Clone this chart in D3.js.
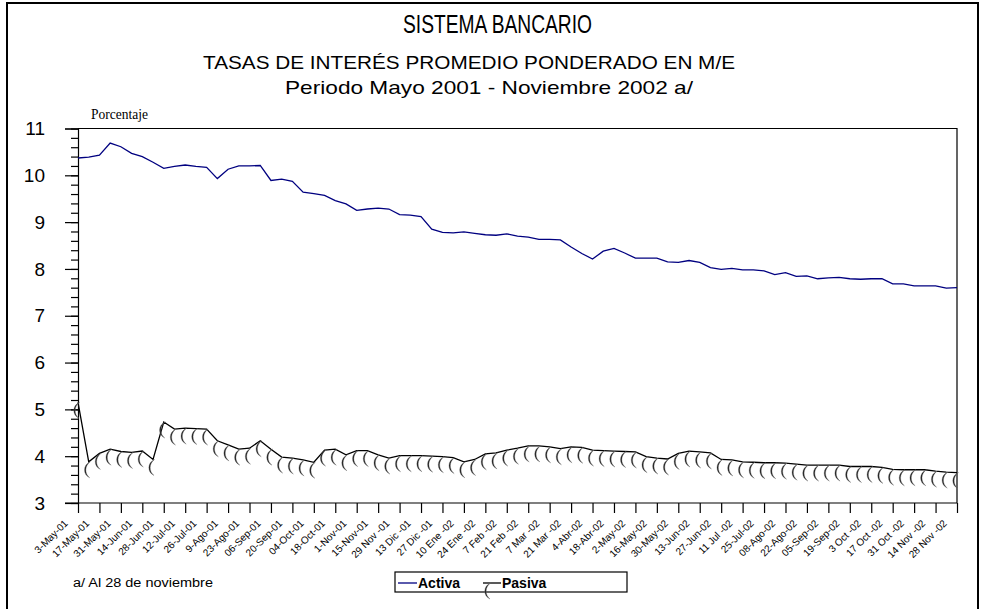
<!DOCTYPE html>
<html>
<head>
    <style>
        html,
        body {
            width: 100%;
            height: 100%;
            margin: 0;
            padding: 0;
            overflow: hidden;
            background: #fff;
        }
    </style>
</head>
<body>
<script src="https://d3js.org/d3.v7.min.js"></script>
<script>
    // tick labels, one every two weeks
    const dateLabels = ["3-May-01", "17-May-01", "31-May-01", "14-Jun-01", "28-Jun-01", "12-Jul-01", "26-Jul-01",
        "9-Ago-01", "23-Ago-01", "06-Sep-01", "20-Sep-01", "04-Oct-01", "18-Oct-01", "1-Nov-01", "15-Nov-01",
        "29 Nov -01", "13 Dic -01", "27 Dic -01", "10 Ene -02", "24 Ene -02", "7 Feb -02", "21 Feb -02",
        "7 Mar -02", "21 Mar -02", "4-Abr-02", "18-Abr-02", "2-May-02", "16-May-02", "30-May-02", "13-Jun-02",
        "27-Jun-02", "11 Jul -02", "25-Jul-02", "08-Ago-02", "22-Ago-02", "05-Sep-02", "19-Sep-02", "3 Oct -02",
        "17 Oct -02", "31 Oct -02", "14 Nov -02", "28 Nov -02"];

    // weekly rates (%)
    const activa = [10.37, 10.39, 10.43, 10.69, 10.61, 10.47, 10.40, 10.28, 10.15, 10.19, 10.22, 10.19, 10.17,
        9.93, 10.13, 10.20, 10.20, 10.21, 9.89, 9.92, 9.87, 9.64, 9.61, 9.57, 9.46, 9.39, 9.25, 9.28, 9.30,
        9.28, 9.16, 9.15, 9.12, 8.85, 8.78, 8.77, 8.79, 8.76, 8.73, 8.72, 8.75, 8.70, 8.68, 8.63, 8.63, 8.62,
        8.47, 8.33, 8.21, 8.38, 8.44, 8.34, 8.23, 8.23, 8.23, 8.15, 8.14, 8.18, 8.14, 8.03, 7.99, 8.01, 7.98,
        7.98, 7.96, 7.88, 7.92, 7.84, 7.85, 7.79, 7.81, 7.82, 7.79, 7.78, 7.79, 7.79, 7.68, 7.68, 7.64, 7.64,
        7.64, 7.59, 7.60];

    const pasiva = [5.15, 3.88, 4.06, 4.15, 4.10, 4.08, 4.11, 3.93, 4.73, 4.58, 4.60, 4.59, 4.58, 4.33, 4.24,
        4.15, 4.17, 4.33, 4.15, 3.98, 3.96, 3.92, 3.87, 4.13, 4.15, 4.03, 4.12, 4.12, 4.03, 3.96, 4.01, 4.01,
        4.01, 4.00, 3.99, 3.97, 3.88, 3.93, 4.05, 4.07, 4.13, 4.17, 4.22, 4.22, 4.20, 4.16, 4.20, 4.19, 4.13,
        4.12, 4.11, 4.10, 4.09, 3.99, 3.96, 3.94, 4.06, 4.11, 4.09, 4.07, 3.93, 3.92, 3.88, 3.87, 3.86, 3.86,
        3.85, 3.83, 3.81, 3.81, 3.81, 3.81, 3.78, 3.78, 3.78, 3.76, 3.72, 3.71, 3.71, 3.71, 3.68, 3.66, 3.65];

    const yTicks = [3, 4, 5, 6, 7, 8, 9, 10, 11];

    const width = 982;
    const height = 609;
    const plot = {left: 78, right: 957, top: 128.5, bottom: 503};

    const svg = d3.select("body")
        .append("svg")
        .attr("width", width)
        .attr("height", height)
        .style("font-family", "Arial, 'Liberation Sans', sans-serif");

    // outer frame
    svg.append("rect")
        .attr("x", 7).attr("y", 3)
        .attr("width", 971).attr("height", 700)
        .attr("fill", "none")
        .attr("stroke", "#000")
        .attr("stroke-width", 2);

    // titles
    svg.append("text").attr("x", 403).attr("y", 33)
        .attr("font-size", 26).attr("textLength", 189).attr("lengthAdjust", "spacingAndGlyphs")
        .text("SISTEMA BANCARIO");
    svg.append("text").attr("x", 203).attr("y", 69)
        .attr("font-size", 19).attr("textLength", 532).attr("lengthAdjust", "spacingAndGlyphs")
        .text("TASAS DE INTERÉS PROMEDIO PONDERADO EN M/E");
    svg.append("text").attr("x", 285).attr("y", 94)
        .attr("font-size", 18.5).attr("textLength", 408).attr("lengthAdjust", "spacingAndGlyphs")
        .text("Periodo Mayo 2001 - Noviembre  2002 a/");

    svg.append("text").attr("x", 91).attr("y", 119)
        .attr("font-family", "'Liberation Serif', 'Times New Roman', serif")
        .attr("font-size", 14).attr("textLength", 57).attr("lengthAdjust", "spacingAndGlyphs")
        .text("Porcentaje");

    const x = d3.scaleLinear().domain([0, activa.length - 1]).range([plot.left, plot.right]);
    const y = d3.scaleLinear().domain([3, 11]).range([plot.bottom, plot.top]);

    // plot box (top and right)
    svg.append("path")
        .attr("d", `M${plot.left},${plot.top}H${plot.right}V${plot.bottom}`)
        .attr("fill", "none").attr("stroke", "#000").attr("stroke-width", 1.2);

    // minor y ticks every 0.2
    svg.append("g")
        .attr("transform", `translate(${plot.left},0)`)
        .call(d3.axisLeft(y).tickValues(d3.range(15, 56).map(d => d / 5)).tickSize(7).tickFormat(""))
        .call(g => g.select(".domain").remove())
        .selectAll("line").attr("stroke-width", 1.2);

    // major y ticks
    svg.append("g")
        .attr("transform", `translate(${plot.left},0)`)
        .call(d3.axisLeft(y).tickValues(yTicks).tickSize(13).tickPadding(20).tickFormat(d3.format("d")))
        .call(g => g.select(".domain").attr("stroke-width", 1.2))
        .call(g => g.selectAll("line").attr("stroke-width", 1.2))
        .call(g => g.selectAll("text").attr("font-size", 19).attr("fill", "#000")
            .attr("font-family", "Arial, 'Liberation Sans', sans-serif"));

    // x axis
    const tickIdx = dateLabels.map((d, i) => i * 2);
    svg.append("g")
        .attr("transform", `translate(0,${plot.bottom})`)
        .call(d3.axisBottom(x).tickValues(tickIdx).tickSize(10).tickFormat(d => dateLabels[d / 2]))
        .call(g => g.select(".domain").attr("d", `M${plot.left - 13},0H${plot.right}`).attr("stroke-width", 1.2))
        .call(g => g.selectAll("line").attr("stroke-width", 1.2))
        .call(g => g.selectAll("text")
            .attr("x", 0).attr("y", 0).attr("dy", 0)
            .attr("transform", "translate(-10,21) rotate(-45)")
            .attr("text-anchor", "end")
            .attr("font-size", 10)
            .attr("fill", "#000")
            .attr("font-family", "Arial, 'Liberation Sans', sans-serif"));

    // lines
    const line = d3.line().x((d, i) => x(i)).y(d => y(d));

    svg.append("path")
        .datum(activa)
        .attr("d", line)
        .attr("fill", "none")
        .attr("stroke", "#000080")
        .attr("stroke-width", 1.3);

    svg.append("path")
        .datum(pasiva)
        .attr("d", line)
        .attr("fill", "none")
        .attr("stroke", "#000")
        .attr("stroke-width", 1.3);

    // "(" shaped marker hanging under the point
    function marker(px, py) {
        return `M${px + 1.5},${py} C${px - 6},${py + 3} ${px - 6},${py + 13} ${px + 1},${py + 16}` +
            ` C${px - 4.2},${py + 12} ${px - 4.2},${py + 4} ${px + 1.5},${py} Z`;
    }

    svg.append("g")
        .selectAll("path")
        .data(pasiva)
        .join("path")
        .attr("d", (d, i) => marker(x(i), y(d)))
        .attr("fill", "#111")
        .attr("stroke", "#777")
        .attr("stroke-width", 0.4);

    // footnote
    svg.append("text").attr("x", 73).attr("y", 587)
        .attr("font-size", 12.5).attr("textLength", 140).attr("lengthAdjust", "spacingAndGlyphs")
        .text("a/ Al  28  de noviembre");

    // legend
    const legend = svg.append("g");
    legend.append("rect")
        .attr("x", 395).attr("y", 572)
        .attr("width", 232).attr("height", 20)
        .attr("fill", "none").attr("stroke", "#000").attr("stroke-width", 1.2);
    legend.append("line")
        .attr("x1", 398).attr("x2", 417).attr("y1", 583).attr("y2", 583)
        .attr("stroke", "#000080").attr("stroke-width", 1.3);
    legend.append("text").attr("x", 418).attr("y", 588)
        .attr("font-size", 14).attr("font-weight", "bold")
        .text("Activa");
    legend.append("line")
        .attr("x1", 483).attr("x2", 501).attr("y1", 583).attr("y2", 583)
        .attr("stroke", "#000").attr("stroke-width", 1.3);
    legend.append("path")
        .attr("d", marker(489, 583))
        .attr("fill", "#111").attr("stroke", "#777").attr("stroke-width", 0.4);
    legend.append("text").attr("x", 502).attr("y", 588)
        .attr("font-size", 14).attr("font-weight", "bold")
        .text("Pasiva");
</script>
</body>
</html>
